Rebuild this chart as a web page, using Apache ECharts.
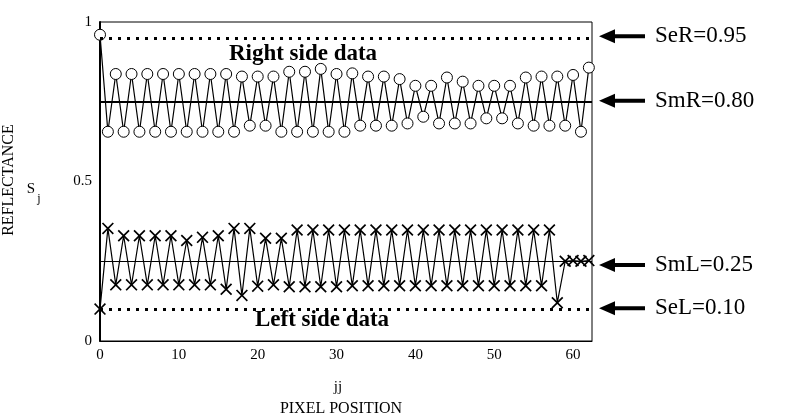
<!DOCTYPE html>
<html>
<head>
<meta charset="utf-8">
<script src="https://cdn.jsdelivr.net/npm/echarts@6/dist/echarts.min.js"></script>
<style>
    html, body { margin: 0; padding: 0; background: #fff; }
    #main { width: 792px; height: 418px; }
</style>
</head>
<body>
<div id="main"></div>
<script>
// pixel position jj
var jj = [0, 1, 2, 3, 4, 5, 6, 7, 8, 9, 10, 11, 12, 13, 14, 15, 16, 17, 18, 19, 20,
    21, 22, 23, 24, 25, 26, 27, 28, 29, 30, 31, 32, 33, 34, 35, 36, 37, 38, 39, 40,
    41, 42, 43, 44, 45, 46, 47, 48, 49, 50, 51, 52, 53, 54, 55, 56, 57, 58, 59, 60, 61, 62];

// right side data (circles)
var rightData = [0.96,
    0.656, 0.837, 0.656, 0.837, 0.656, 0.837, 0.656, 0.837, 0.656, 0.837,
    0.656, 0.837, 0.656, 0.837, 0.656, 0.837, 0.656, 0.829, 0.675, 0.829,
    0.675, 0.829, 0.656, 0.844, 0.656, 0.844, 0.656, 0.853, 0.656, 0.837,
    0.656, 0.839, 0.675, 0.829, 0.675, 0.829, 0.675, 0.821, 0.682, 0.800,
    0.703, 0.800, 0.682, 0.826, 0.682, 0.813, 0.682, 0.800, 0.698, 0.800,
    0.698, 0.800, 0.682, 0.826, 0.675, 0.829, 0.675, 0.829, 0.675, 0.834,
    0.656, 0.857];

// left side data (crosses)
var leftData = [0.10,
    0.353, 0.176, 0.330, 0.176, 0.330, 0.176, 0.330, 0.176, 0.330, 0.176,
    0.315, 0.176, 0.325, 0.176, 0.330, 0.162, 0.353, 0.143, 0.353, 0.172,
    0.322, 0.176, 0.322, 0.170, 0.348, 0.170, 0.348, 0.170, 0.348, 0.170,
    0.348, 0.173, 0.348, 0.173, 0.348, 0.173, 0.348, 0.173, 0.348, 0.173,
    0.348, 0.173, 0.348, 0.173, 0.348, 0.173, 0.348, 0.173, 0.348, 0.173,
    0.348, 0.173, 0.348, 0.173, 0.348, 0.173, 0.348, 0.120, 0.250, 0.252,
    0.250, 0.252];

// reference levels drawn in the plot
var refValues = [0.955, 0.75, 0.25, 0.10];
var refLabels = ['SeR=0.95', 'SmR=0.80', 'SmL=0.25', 'SeL=0.10'];
var arrowAt = [0.955, 0.753, 0.238, 0.103];

var xTicks = [0, 10, 20, 30, 40, 50, 60];
var yTicks = [0, 0.5, 1];
var yTickLabels = ['0', '0.5', '1'];

var crossPath = 'path://M0,1 L1,0 L5,4 L9,0 L10,1 L6,5 L10,9 L9,10 L5,6 L1,10 L0,9 L4,5 Z';

var chart = echarts.init(document.getElementById('main'));

function pairs(ys) {
    return jj.map(function (x, i) { return [x, ys[i]]; });
}

var dotted = { color: '#000', width: 3, type: [3, 6], cap: 'butt' };

var option = {
    animation: false,
    backgroundColor: '#fff',
    grid: {
        left: 100, top: 22, width: 492, height: 319,
        show: true, borderColor: '#000', borderWidth: 1, backgroundColor: 'transparent'
    },
    xAxis: {
        type: 'value', min: 0, max: 62.4, interval: 10,
        splitLine: { show: false },
        axisTick: { show: false },
        axisLine: { show: true, onZero: false, lineStyle: { color: '#000', width: 1 } },
        axisLabel: {
            color: '#000', fontSize: 15, fontFamily: 'Liberation Serif', margin: 7,
            formatter: function (v) { return xTicks.indexOf(v) >= 0 ? String(v) : ''; }
        }
    },
    yAxis: {
        type: 'value', min: 0, max: 1, interval: 0.5,
        splitLine: { show: false },
        axisTick: { show: false },
        axisLine: { show: true, lineStyle: { color: '#000', width: 2 } },
        axisLabel: {
            color: '#000', fontSize: 15, fontFamily: 'Liberation Serif', margin: 8,
            formatter: function (v) {
                var k = yTicks.indexOf(v);
                return k >= 0 ? yTickLabels[k] : '';
            }
        }
    },
    series: [
        {
            name: 'right', type: 'line', data: pairs(rightData),
            symbol: 'circle', symbolSize: 11,
            itemStyle: { color: '#fff', borderColor: '#000', borderWidth: 1 },
            lineStyle: { color: '#000', width: 1.2 },
            z: 3,
            markLine: {
                silent: true, symbol: ['none', 'none'], label: { show: false },
                data: [
                    { yAxis: refValues[0], lineStyle: dotted },
                    { yAxis: refValues[1], lineStyle: { color: '#000', width: 2, type: 'solid' } },
                    { yAxis: refValues[2], lineStyle: { color: '#000', width: 1, type: 'solid' } },
                    { yAxis: refValues[3], lineStyle: dotted }
                ]
            }
        },
        {
            name: 'left', type: 'line', data: pairs(leftData),
            symbol: crossPath, symbolSize: 12,
            itemStyle: { color: '#000' },
            lineStyle: { color: '#000', width: 1.2 },
            z: 3
        }
    ]
};
chart.setOption(option);

// annotations: arrows, labels, axis titles
var els = [];
arrowAt.forEach(function (v, i) {
    var y = chart.convertToPixel({ yAxisIndex: 0 }, v);
    els.push({
        type: 'polygon',
        shape: { points: [[599, y], [615, y - 7], [615, y - 2], [645, y - 2], [645, y + 2], [615, y + 2], [615, y + 7]] },
        style: { fill: '#000' }
    });
    els.push({
        type: 'text', x: 655, y: y,
        style: { text: refLabels[i], fontSize: 23, fontFamily: 'Liberation Serif', fill: '#000', align: 'left', verticalAlign: 'middle' }
    });
});
els.push({
    type: 'text', x: 303, y: 54,
    style: { text: 'Right side data', fontSize: 23, fontWeight: 'bold', fontFamily: 'Liberation Serif', fill: '#000', align: 'center', verticalAlign: 'middle' }
});
els.push({
    type: 'text', x: 322, y: 320,
    style: { text: 'Left side data', fontSize: 23, fontWeight: 'bold', fontFamily: 'Liberation Serif', fill: '#000', align: 'center', verticalAlign: 'middle' }
});
els.push({
    type: 'text', x: 9, y: 180, rotation: Math.PI / 2,
    style: { text: 'REFLECTANCE', fontSize: 16, fontFamily: 'Liberation Serif', fill: '#000', align: 'center', verticalAlign: 'middle' }
});
els.push({
    type: 'text', x: 31, y: 189,
    style: { text: 'S', fontSize: 15, fontFamily: 'Liberation Serif', fill: '#000', align: 'center', verticalAlign: 'middle' }
});
els.push({
    type: 'text', x: 39, y: 199,
    style: { text: 'j', fontSize: 12, fontFamily: 'Liberation Serif', fill: '#000', align: 'center', verticalAlign: 'middle' }
});
els.push({
    type: 'text', x: 338, y: 387,
    style: { text: 'jj', fontSize: 15, fontFamily: 'Liberation Serif', fill: '#000', align: 'center', verticalAlign: 'middle' }
});
els.push({
    type: 'text', x: 341, y: 409,
    style: { text: 'PIXEL POSITION', fontSize: 16, fontFamily: 'Liberation Serif', fill: '#000', align: 'center', verticalAlign: 'middle' }
});
chart.setOption({ graphic: els });
</script>
</body>
</html>
